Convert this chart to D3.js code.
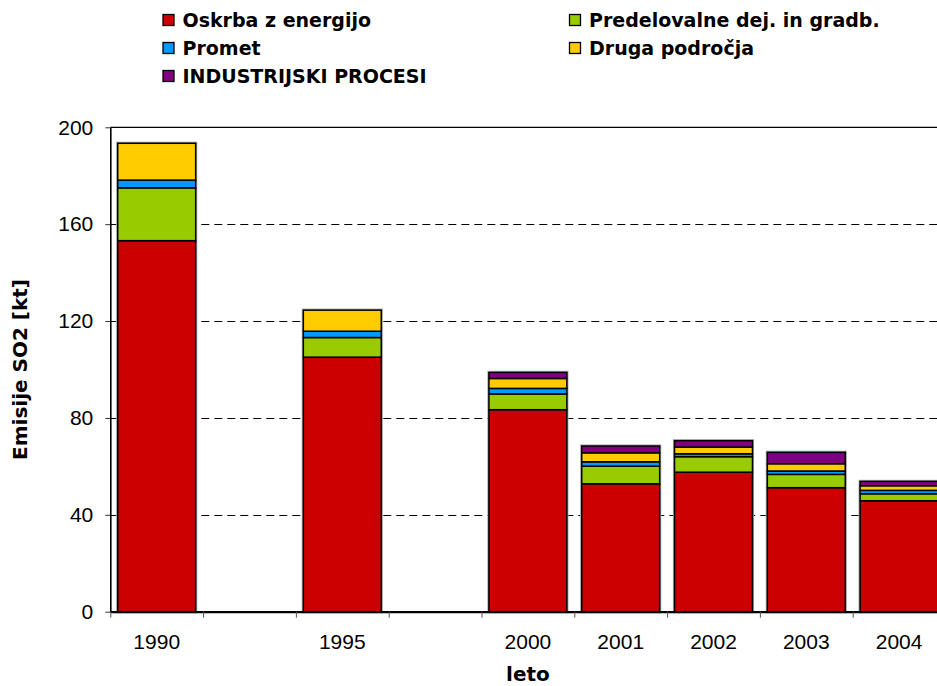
<!DOCTYPE html>
<html>
<head>
<meta charset="utf-8">
<script src="https://cdn.jsdelivr.net/npm/d3@7/dist/d3.min.js"></script>
<style>
  html, body { margin: 0; padding: 0; background: #fff; overflow: hidden; }
  svg { display: block; }
</style>
</head>
<body>
<svg id="chart" width="937" height="686"></svg>
<script>
// categories (blank entries are empty slots on the axis)
const categories = ["1990", "", "1995", "", "2000", "2001", "2002", "2003", "2004"];

// emissions in kt, per source
const oskrba = [153.2, 0, 105.1, 0, 83.4, 52.8, 57.6, 51.2, 45.8];
const predelovalne = [21.8, 0, 8.1, 0, 6.5, 7.3, 6.4, 5.5, 2.9];
const promet = [3.2, 0, 2.6, 0, 2.3, 1.8, 1.2, 1.4, 1.4];
const druga = [15.2, 0, 8.7, 0, 4.1, 3.7, 2.8, 3.0, 1.9];
const procesi = [0, 0, 0, 0, 2.5, 2.8, 2.6, 4.7, 1.8];

const seriesNames = ["Oskrba z energijo", "Predelovalne dej. in gradb.", "Promet", "Druga področja", "INDUSTRIJSKI PROCESI"];
const seriesColors = ["#CC0000", "#99CC00", "#0099FF", "#FFCC00", "#800080"];
const yTicks = [0, 40, 80, 120, 160, 200];

const keys = ["oskrba", "predelovalne", "promet", "druga", "procesi"];
let data = categories.map(function (c, i) {
    return {i: i, label: c, oskrba: oskrba[i], predelovalne: predelovalne[i], promet: promet[i], druga: druga[i], procesi: procesi[i]};
});

let svg = d3.select("#chart"),
    plotLeft = 110.3, plotTop = 127.3, plotBottom = 611.7,
    bandStep = 92.8,
    plotRight = plotLeft + bandStep * categories.length;

let x = d3.scaleBand().domain(d3.range(categories.length)).range([plotLeft, plotRight]).padding(0);
let xEdge = d3.scaleLinear().domain([0, categories.length]).range([plotLeft, plotRight]);
let y = d3.scaleLinear().domain([0, 200]).range([plotBottom, plotTop]);

// dashed gridlines
svg.append("g")
    .selectAll("line")
    .data(yTicks.filter(function (d) { return d > 0 && d < 200; }))
    .enter().append("line")
    .attr("x1", plotLeft).attr("x2", plotRight)
    .attr("y1", function (d) { return Math.round(y(d)) + 0.5; })
    .attr("y2", function (d) { return Math.round(y(d)) + 0.5; })
    .attr("stroke", "#000").attr("stroke-width", 1)
    .attr("stroke-dasharray", "8,5");

// plot frame (top and right)
svg.append("path")
    .attr("d", "M" + plotLeft + "," + y(200) + "H" + plotRight + "V" + y(0))
    .attr("fill", "none").attr("stroke", "#000").attr("stroke-width", 1.3);

let barW = x.bandwidth() * 0.84;
let stacked = d3.stack().keys(keys)(data);
let total = function (d) { return d.oskrba + d.predelovalne + d.promet + d.druga + d.procesi; };

// soft grey outline behind each bar
svg.append("g")
    .selectAll("rect")
    .data(data.filter(function (d) { return total(d) > 0; }))
    .enter().append("rect")
    .attr("x", function (d) { return x(d.i) + (x.bandwidth() - barW) / 2; })
    .attr("y", function (d) { return y(total(d)); })
    .attr("width", barW)
    .attr("height", function (d) { return y(0) - y(total(d)); })
    .attr("fill", "none").attr("stroke", "#aaa").attr("stroke-width", 3.2);

svg.append("g")
    .selectAll("g")
    .data(stacked)
    .enter().append("g")
    .attr("fill", function (d, k) { return seriesColors[k]; })
    .selectAll("rect")
    .data(function (d) { return d.filter(function (s) { return s[1] - s[0] > 0; }); })
    .enter().append("rect")
    .attr("x", function (d) { return x(d.data.i) + (x.bandwidth() - barW) / 2; })
    .attr("y", function (d) { return y(d[1]); })
    .attr("width", barW)
    .attr("height", function (d) { return y(d[0]) - y(d[1]); })
    .attr("stroke", "#000").attr("stroke-width", 1.5);

// y axis
let yAxis = svg.append("g")
    .attr("transform", "translate(" + plotLeft + ",0)")
    .call(d3.axisLeft(y).tickValues(yTicks).tickSize(5).tickPadding(12).tickSizeOuter(0));
yAxis.select(".domain").attr("stroke", "#000").attr("stroke-width", 1.6);
yAxis.selectAll(".tick line").attr("stroke", "#333");
yAxis.selectAll(".tick text")
    .attr("font-family", "'Liberation Sans', Arial, sans-serif")
    .attr("font-size", 21).attr("fill", "#000");

// x axis: ticks on band edges, labels centred in bands
let xTickAxis = svg.append("g")
    .attr("transform", "translate(0," + plotBottom + ")")
    .call(d3.axisBottom(xEdge).tickValues(d3.range(categories.length + 1)).tickFormat("").tickSize(6).tickSizeOuter(0));
xTickAxis.select(".domain").attr("stroke", "#000").attr("stroke-width", 2.2);
xTickAxis.selectAll(".tick line").attr("stroke", "#555");

let xLabelAxis = svg.append("g")
    .attr("transform", "translate(0," + plotBottom + ")")
    .call(d3.axisBottom(x).tickSize(0).tickPadding(22).tickFormat(function (i) { return categories[i]; }));
xLabelAxis.select(".domain").remove();
xLabelAxis.selectAll(".tick text")
    .attr("font-family", "'Liberation Sans', Arial, sans-serif")
    .attr("font-size", 21).attr("fill", "#000");

// axis titles
svg.append("text")
    .attr("x", (plotLeft + plotRight) / 2).attr("y", 681)
    .attr("text-anchor", "middle")
    .attr("font-family", "'DejaVu Sans', Verdana, sans-serif")
    .attr("font-weight", "bold").attr("font-size", 20)
    .text("leto");

svg.append("text")
    .attr("transform", "translate(27," + (plotTop + plotBottom) / 2 + ") rotate(-90)")
    .attr("text-anchor", "middle")
    .attr("font-family", "'DejaVu Sans', Verdana, sans-serif")
    .attr("font-weight", "bold").attr("font-size", 20)
    .text("Emisije SO2 [kt]");

// legend
let legendCols = [163, 569.5], legendRows = [14.5, 42.5, 70.5];
let legend = svg.append("g")
    .selectAll("g")
    .data(seriesNames)
    .enter().append("g")
    .attr("transform", function (d, k) {
        return "translate(" + legendCols[k % 2] + "," + legendRows[Math.floor(k / 2)] + ")";
    });
legend.append("rect")
    .attr("width", 11).attr("height", 11)
    .attr("fill", function (d, k) { return seriesColors[k]; })
    .attr("stroke", "#000").attr("stroke-width", 1.3);
legend.append("text")
    .attr("x", 19.5).attr("y", 12.3)
    .attr("font-family", "'DejaVu Sans', Verdana, sans-serif")
    .attr("font-weight", "bold").attr("font-size", 19)
    .text(function (d) { return d; });
</script>
</body>
</html>
